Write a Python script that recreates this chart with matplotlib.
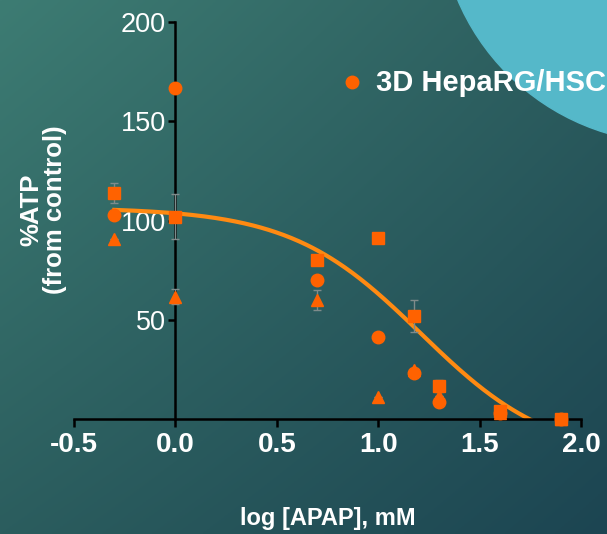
import numpy as np
import matplotlib
matplotlib.use("Agg")
import matplotlib.pyplot as plt
from matplotlib import font_manager
from matplotlib.patches import Circle

# log [APAP] (mM) doses
log_apap = [-0.301, 0.0, 0.699, 1.0, 1.176, 1.301, 1.602, 1.903]

# %ATP replicate series (square / circle / triangle markers)
atp_square = [114, 102, 80, 91.3, 52, 16.7, 4, 0]
err_square = [5, 11.5, 0, 0, 8, 3, 0, 0]
atp_circle = [103, 166.5, 70, 41.5, 23.5, 8.5, 3, 0]
atp_triangle = [90.8, 61.8, 60, 11.3, 25, 12, 3, 0]
err_triangle = [0, 4, 5, 0, 0, 0, 0, 0]

# fitted sigmoid (log inhibitor vs response)
fit_top = 106.5
fit_bottom = -20
fit_logec50 = 1.21
fit_hill = 1.35

x_ticks = [-0.5, 0.0, 0.5, 1.0, 1.5, 2.0]
y_ticks = [50, 100, 150, 200]

names = {f.name for f in font_manager.fontManager.ttflist}
narrow = "Liberation Sans Narrow" if "Liberation Sans Narrow" in names else "Liberation Sans"
small = 0 if narrow == "Liberation Sans Narrow" else 1

W, H = 607, 534
fig = plt.figure(figsize=(W / 100, H / 100), dpi=100)

# background: diagonal teal gradient + light circle in the corner
bg = fig.add_axes([0, 0, 1, 1], zorder=-1)
bg.set_xlim(0, W)
bg.set_ylim(0, H)
bg.axis("off")
tl = np.array([0x3d, 0x7c, 0x73]) / 255
tr = np.array([0x2c, 0x5d, 0x5e]) / 255
bl = np.array([0x2b, 0x5d, 0x5e]) / 255
br = np.array([0x1c, 0x45, 0x52]) / 255
u = np.linspace(0, 1, 200)[None, :, None]
v = np.linspace(0, 1, 200)[:, None, None]
grad = (1 - v) * ((1 - u) * tl + u * tr) + v * ((1 - u) * bl + u * br)
bg.imshow(grad, extent=[0, W, 0, H], aspect="auto", origin="upper")
bg.add_patch(Circle((674, H + 92), 235, color="#55b8c9", zorder=2))

ax = fig.add_axes([74 / W, 1 - 419.4 / H, 507 / W, 397.7 / H])
ax.patch.set_alpha(0)

orange = "#ff6200"
xs = np.linspace(-0.301, 1.95, 300)
ys = fit_bottom + (fit_top - fit_bottom) / (1 + 10 ** ((xs - fit_logec50) * fit_hill))
ax.plot(xs, ys, color="#ff8a12", lw=3, zorder=2)

ekw = dict(ecolor="#7f8b8b", elinewidth=1, capsize=3, capthick=1, ls="none",
           clip_on=False, zorder=3)
ax.errorbar(log_apap, atp_triangle, yerr=err_triangle, marker="^", ms=9,
            mfc=orange, mec=orange, **ekw)
ax.errorbar(log_apap, atp_circle, marker="o", ms=9, mfc=orange, mec=orange, **ekw)
ax.errorbar(log_apap, atp_square, yerr=err_square, marker="s", ms=9,
            mfc=orange, mec=orange, **ekw)

ax.set_xlim(-0.5, 2.0)
ax.set_ylim(0, 200)
ax.spines["left"].set_position(("data", 0))
ax.spines["top"].set_visible(False)
ax.spines["right"].set_visible(False)
for s in ("left", "bottom"):
    ax.spines[s].set_color("black")
    ax.spines[s].set_linewidth(1.8)
ax.set_xticks(x_ticks)
ax.set_xticklabels([f"{t:.1f}" for t in x_ticks], family=narrow,
                   fontweight="bold", fontsize=21.5 - 1.5 * small, color="white")
ax.set_yticks(y_ticks)
ax.set_yticklabels([str(t) for t in y_ticks], family=narrow,
                   fontsize=21.5 - 2 * small, color="white")
ax.tick_params(axis="x", length=5.8, width=1.8, pad=3.5, color="black")
ax.tick_params(axis="y", length=5, width=1.8, pad=1.8, color="black")

fig.text(328 / W, 1 - 518 / H, "log [APAP], mM", family=narrow, fontweight="bold",
         fontsize=20 - 3 * small, color="white", ha="center", va="center")
fig.text(43 / W, 1 - 210 / H, "%ATP\n(from control)", family="Liberation Sans",
         fontweight="bold", fontsize=18.5, color="white", ha="center", va="center",
         rotation=90, multialignment="center", linespacing=1.0)

# legend
bg.plot([352], [H - 82], marker="o", ms=9, color=orange, zorder=5)
fig.text(376 / W, 1 - 83 / H, "3D HepaRG/HSC", family="Liberation Sans",
         fontweight="bold", fontsize=21, color="white", ha="left", va="center")

fig.savefig("out.png", dpi=100)
